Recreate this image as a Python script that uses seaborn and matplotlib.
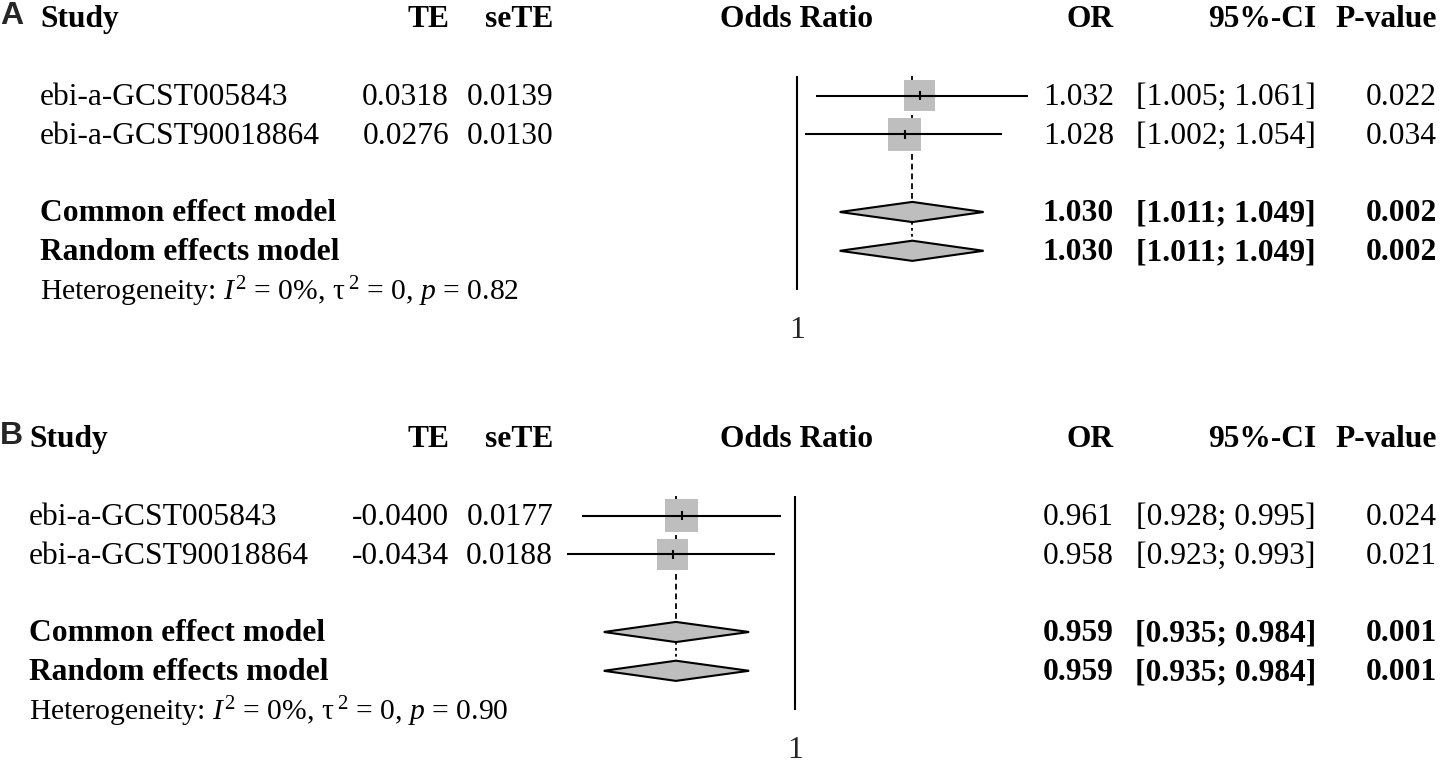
import numpy as np
import pandas as pd
import matplotlib
matplotlib.use("Agg")
import matplotlib.pyplot as plt
import seaborn as sns
from matplotlib.transforms import blended_transform_factory as btf

sns.set_theme(style="white")
plt.rcParams['font.family'] = ['Liberation Serif', 'DejaVu Serif']
plt.rcParams['mathtext.fontset'] = 'custom'
plt.rcParams['mathtext.rm'] = 'Liberation Serif'
plt.rcParams['mathtext.it'] = 'Liberation Serif:italic'
plt.rcParams['mathtext.bf'] = 'Liberation Serif:bold'

# ---------------- data ----------------
studies = ["ebi-a-GCST005843", "ebi-a-GCST90018864"]
model_labels = ["Common effect model", "Random effects model"]
headers = ["Study", "TE", "seTE", "Odds Ratio", "OR", "95%-CI", "P-value"]

A_te = [0.0318, 0.0276]
A_sete = [0.0139, 0.0130]
A_or = [1.032, 1.028]
A_lo = [1.005, 1.002]
A_hi = [1.061, 1.054]
A_p = ["0.022", "0.034"]
A_pool_or = [1.030, 1.030]
A_pool_lo = [1.011, 1.011]
A_pool_hi = [1.049, 1.049]
A_pool_p = ["0.002", "0.002"]
A_het = ["0%", "0", "0.82"]

B_te = [-0.0400, -0.0434]
B_sete = [0.0177, 0.0188]
B_or = [0.961, 0.958]
B_lo = [0.928, 0.923]
B_hi = [0.995, 0.993]
B_p = ["0.024", "0.021"]
B_pool_or = [0.959, 0.959]
B_pool_lo = [0.935, 0.935]
B_pool_hi = [0.984, 0.984]
B_pool_p = ["0.001", "0.001"]
B_het = ["0%", "0", "0.90"]

panels = [
    dict(label="A", te=A_te, se=A_sete, orv=A_or, lo=A_lo, hi=A_hi, p=A_p,
         por=A_pool_or, plo=A_pool_lo, phi=A_pool_hi, pp=A_pool_p, het=A_het,
         top=0, study_x=40, fx0=797, fx1=1028),
    dict(label="B", te=B_te, se=B_sete, orv=B_or, lo=B_lo, hi=B_hi, p=B_p,
         por=B_pool_or, plo=B_pool_lo, phi=B_pool_hi, pp=B_pool_p, het=B_het,
         top=420, study_x=29, fx0=567, fx1=795),
]

# ---------------- layout ----------------
W, H = 1440, 765
ROW_PX = 38.8
HEAD_PX = 18
PANEL_H = 345
FS = 22.7
FS_HET = 21.3
GREY = "#BEBEBE"
X_TE, X_SE, X_ODDS, X_OR, X_CI, X_P = 449, 553, 797, 1114, 1316, 1437
MAX_SQ_PX = 33
TXT_DY = 0.05
LW = 1.5

fig = plt.figure(figsize=(W / 100, H / 100), dpi=100)
fig.patch.set_facecolor("white")

for pan in panels:
    top = pan["top"]
    ax = fig.add_axes([pan["fx0"] / W, 1 - (top + PANEL_H) / H,
                       (pan["fx1"] - pan["fx0"]) / W, PANEL_H / H])
    ax.set_xscale("log")
    lims = pan["lo"] + pan["hi"] + [1.0]
    ax.set_xlim(min(lims), max(lims))
    ax.set_ylim((PANEL_H - HEAD_PX) / ROW_PX, -HEAD_PX / ROW_PX)
    ax.axis("off")
    tr = btf(fig.transFigure, ax.transData)

    def T(xpx, row, s, ha="left", bold=False, size=FS, **kw):
        ax.text(xpx / W, row + TXT_DY, s, transform=tr, ha=ha, va="center",
                fontsize=size, fontweight="bold" if bold else "normal",
                color="black", **kw)

    # panel letter
    fig.text(0.0, 1 - (top + 24) / H, pan["label"], ha="left", va="baseline",
             fontsize=23, fontweight="bold", family="Liberation Sans")

    # headers
    T(pan["study_x"], 0, headers[0], bold=True)
    T(X_TE, 0, headers[1], ha="right", bold=True)
    T(X_SE, 0, headers[2], ha="right", bold=True)
    T(X_ODDS, 0, headers[3], ha="center", bold=True)
    T(X_OR, 0, headers[4], ha="right", bold=True)
    T(X_CI, 0, headers[5], ha="right", bold=True)
    T(X_P, 0, headers[6], ha="right", bold=True)

    study_rows = np.array([2, 3])
    model_rows = np.array([5, 6])

    for i, r in enumerate(study_rows):
        T(pan["study_x"], r, studies[i])
        T(X_TE, r, f"{pan['te'][i]:.4f}", ha="right")
        T(X_SE, r, f"{pan['se'][i]:.4f}", ha="right")
        T(X_OR, r, f"{pan['orv'][i]:.3f}", ha="right")
        T(X_CI, r, f"[{pan['lo'][i]:.3f}; {pan['hi'][i]:.3f}]", ha="right")
        T(X_P, r, pan["p"][i], ha="right")

    for i, r in enumerate(model_rows):
        T(pan["study_x"], r, model_labels[i], bold=True)
        T(X_OR, r, f"{pan['por'][i]:.3f}", ha="right", bold=True)
        T(X_CI, r, f"[{pan['plo'][i]:.3f}; {pan['phi'][i]:.3f}]", ha="right", bold=True)
        T(X_P, r, pan["pp"][i], ha="right", bold=True)

    i2, tau2, phet = pan["het"]
    T(pan["study_x"], 7,
      r"Heterogeneity: $I^2$ = " + i2 + r", τ$^{\;2}$ = " + tau2 +
      ", $p$ = " + phet, size=FS_HET)

    # forest graphics
    df = pd.DataFrame({"or": pan["orv"], "row": study_rows,
                       "w": 1 / np.array(pan["se"]) ** 2})
    side_pt = MAX_SQ_PX * 0.72 * np.sqrt(df["w"] / df["w"].max())
    sns.scatterplot(data=df, x="or", y="row", marker="s", s=(side_pt ** 2).values,
                    color=GREY, linewidth=0, ax=ax, legend=False, zorder=2,
                    clip_on=False)
    ax.hlines(study_rows, pan["lo"], pan["hi"], color="black", lw=LW,
              zorder=3, clip_on=False)
    ax.vlines(pan["orv"], study_rows - 0.12, study_rows + 0.12, color="black",
              lw=LW, zorder=3, clip_on=False)

    # reference line at 1
    ax.vlines(1.0, 1.5, 7.0, color="black", lw=LW, zorder=1, clip_on=False)
    ax.text(1.0, 8 + TXT_DY, "1", ha="center", va="center", fontsize=FS,
            transform=ax.transData)

    # pooled lines
    hh = 0.26
    ax.vlines(pan["por"][0], 1.5, model_rows[0] - hh, color="black", lw=1.3,
              linestyles=(0, (3.2, 2.2)), zorder=1, clip_on=False)
    ax.vlines(pan["por"][1], model_rows[0] + hh, model_rows[1] - hh, color="black",
              lw=1.3, linestyles=(0, (1.5, 1.8)), zorder=1, clip_on=False)

    # diamonds
    for i, r in enumerate(model_rows):
        est, lo, hi = pan["por"][i], pan["plo"][i], pan["phi"][i]
        ax.fill([lo, est, hi, est], [r, r - hh, r, r + hh], facecolor=GREY,
                edgecolor="black", lw=LW, zorder=3, clip_on=False)

fig.savefig("out.png", dpi=100, facecolor="white")
